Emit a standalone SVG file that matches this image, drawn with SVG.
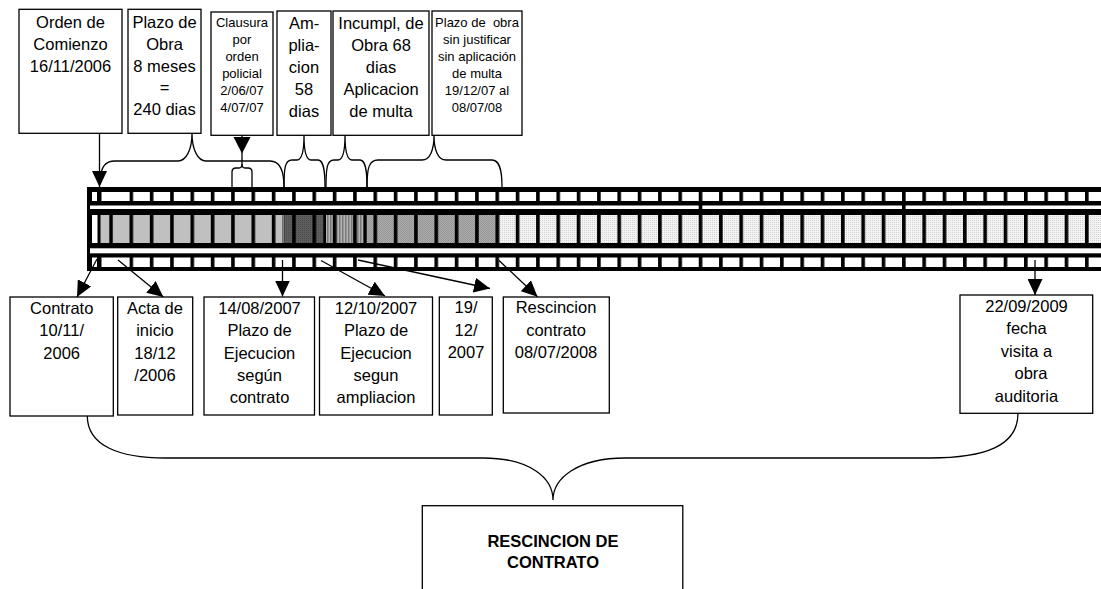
<svg xmlns="http://www.w3.org/2000/svg" width="1101" height="589" viewBox="0 0 1101 589">
<style>
.box{fill:#fff;stroke:#000;stroke-width:1.3}
.t{font-family:"Liberation Sans",Arial,sans-serif;font-size:16.5px;text-anchor:middle;fill:#000}
.s{font-size:13px}
.b{font-weight:bold}
.ln{fill:none;stroke:#000;stroke-width:1.3}
</style>
<defs>
<marker id="ah" markerUnits="userSpaceOnUse" markerWidth="16" markerHeight="15" refX="16" refY="7.5" orient="auto" viewBox="0 0 16 15"><path d="M0,0 L16,7.5 L0,15 z" fill="#000"/></marker>
<pattern id="holes" patternUnits="userSpaceOnUse" x="129.5" y="0" width="20.33" height="600"><rect x="3.6" y="0" width="16.73" height="600" fill="#fff"/></pattern>
<pattern id="divs" patternUnits="userSpaceOnUse" x="129.5" y="0" width="20.33" height="600"><rect x="0" y="0" width="3.6" height="600" fill="#000"/></pattern>
<pattern id="pDark" patternUnits="userSpaceOnUse" width="2" height="2"><rect width="2" height="2" fill="#5e5e5e"/><rect width="1" height="1" fill="#4c4c4c"/></pattern>
<pattern id="pStripe" patternUnits="userSpaceOnUse" width="3" height="3"><rect width="3" height="3" fill="#b2b2b2"/><rect width="1.5" height="3" fill="#7a7a7a"/></pattern>
<pattern id="pMed" patternUnits="userSpaceOnUse" width="2" height="2"><rect width="2" height="2" fill="#acacac"/><rect width="1" height="1" fill="#969696"/><rect x="1" y="1" width="1" height="1" fill="#969696"/></pattern>
<pattern id="pLight" patternUnits="userSpaceOnUse" width="2" height="2"><rect width="2" height="2" fill="#f3f3f3"/><rect width="1" height="1" fill="#d2d2d2"/></pattern>
</defs>

<!-- film strip -->
<g id="strip">
  <rect x="87" y="187" width="1014" height="84" fill="#000"/>
  <!-- gaps between bands -->
  <rect x="90" y="205.5" width="1011" height="3.5" fill="#fff"/>
  <rect x="698.7" y="205" width="3.6" height="5" fill="#000"/>
  <rect x="902" y="205" width="3.6" height="5" fill="#000"/>
  <rect x="90" y="248.3" width="1011" height="5" fill="#fff"/>
  <!-- top band holes -->
  <rect x="92" y="192" width="5" height="9" fill="#fff"/>
  <rect x="101.5" y="192" width="28" height="9" fill="#fff"/>
  <rect x="129.5" y="192" width="971.5" height="9" fill="url(#holes)"/>
  <!-- bottom band holes -->
  <rect x="92" y="257.5" width="5" height="9.5" fill="#fff"/>
  <rect x="101.5" y="257.5" width="28" height="9.5" fill="#fff"/>
  <rect x="129.5" y="257.5" width="971.5" height="9.5" fill="url(#holes)"/>
  <!-- middle band cells -->
  <rect x="92" y="215" width="5.5" height="28" fill="#fff"/>
  <rect x="100.5" y="215" width="182" height="28" fill="#c0c0c0"/>
  <rect x="282.5" y="215" width="1.8" height="28" fill="#808080"/>
  <rect x="284.3" y="215" width="39" height="28" fill="url(#pDark)"/>
  <rect x="326" y="215" width="37.5" height="28" fill="url(#pStripe)"/>
  <rect x="366.7" y="215" width="133.3" height="28" fill="url(#pMed)"/>
  <rect x="500" y="215" width="601" height="28" fill="url(#pLight)"/>
  <rect x="109.17" y="215" width="991.83" height="28" fill="url(#divs)"/>
</g>

<!-- top nodes -->
<g id="n1"><rect class="box" x="19" y="9.3" width="103" height="124"/>
<text class="t" x="70.5" y="28.3">Orden de</text><text class="t" x="70.5" y="50">Comienzo</text><text class="t" x="70.5" y="71.7">16/11/2006</text></g>
<g id="n2"><rect class="box" x="128" y="9.3" width="73" height="124"/>
<text class="t" x="164.5" y="28.3">Plazo de</text><text class="t" x="164.5" y="50">Obra</text><text class="t" x="164.5" y="71.7">8 meses</text><text class="t" x="164.5" y="93.4">=</text><text class="t" x="164.5" y="115.1">240 dias</text></g>
<g id="n3"><rect class="box" x="211" y="12" width="62" height="123.3"/>
<text class="t s" x="242" y="26.7">Clausura</text><text class="t s" x="242" y="43.7">por</text><text class="t s" x="242" y="60.7">orden</text><text class="t s" x="242" y="77.7">policial</text><text class="t s" x="242" y="94.7">2/06/07</text><text class="t s" x="242" y="111.7">4/07/07</text></g>
<g id="n4"><rect class="box" x="277" y="11" width="54" height="124.3"/>
<text class="t" x="304" y="29">Am-</text><text class="t" x="304" y="51">plia-</text><text class="t" x="304" y="73">cion</text><text class="t" x="304" y="95">58</text><text class="t" x="304" y="117">dias</text></g>
<g id="n5"><rect class="box" x="333" y="11" width="96" height="124.3"/>
<text class="t" x="381" y="29">Incumpl, de</text><text class="t" x="381" y="51">Obra 68</text><text class="t" x="381" y="73">dias</text><text class="t" x="381" y="95">Aplicacion</text><text class="t" x="381" y="117">de multa</text></g>
<g id="n6"><rect class="box" x="432" y="11" width="90" height="124.3"/>
<text class="t s" x="477" y="26.7" xml:space="preserve">Plazo de  obra</text><text class="t s" x="477" y="43.7">sin justificar</text><text class="t s" x="477" y="60.7">sin aplicación</text><text class="t s" x="477" y="77.7">de multa</text><text class="t s" x="477" y="94.7">19/12/07 al</text><text class="t s" x="477" y="111.7">08/07/08</text></g>

<!-- bottom nodes -->
<g id="b1"><rect class="box" x="10" y="297" width="103.3" height="119"/>
<text class="t" x="61.7" y="314">Contrato</text><text class="t" x="61.7" y="336.3">10/11/</text><text class="t" x="61.7" y="358.6">2006</text></g>
<g id="b2"><rect class="box" x="117.7" y="297" width="75" height="118"/>
<text class="t" x="155" y="314">Acta de</text><text class="t" x="155" y="336.3">inicio</text><text class="t" x="155" y="358.6">18/12</text><text class="t" x="155" y="380.9">/2006</text></g>
<g id="b3"><rect class="box" x="204" y="297" width="110.5" height="118"/>
<text class="t" x="259.5" y="314">14/08/2007</text><text class="t" x="259.5" y="336.3">Plazo de</text><text class="t" x="259.5" y="358.6">Ejecucion</text><text class="t" x="259.5" y="380.9">según</text><text class="t" x="259.5" y="403.2">contrato</text></g>
<g id="b4"><rect class="box" x="319.5" y="297" width="113" height="118"/>
<text class="t" x="376" y="314">12/10/2007</text><text class="t" x="376" y="336.3">Plazo de</text><text class="t" x="376" y="358.6">Ejecucion</text><text class="t" x="376" y="380.9">segun</text><text class="t" x="376" y="403.2">ampliacion</text></g>
<g id="b5"><rect class="box" x="439.3" y="297" width="53" height="118"/>
<text class="t" x="466" y="313.3">19/</text><text class="t" x="466" y="336">12/</text><text class="t" x="466" y="358.3">2007</text></g>
<g id="b6"><rect class="box" x="503.3" y="297" width="106" height="116"/>
<text class="t" x="556" y="313.3">Rescincion</text><text class="t" x="556" y="336">contrato</text><text class="t" x="556" y="358.3">08/07/2008</text></g>
<g id="b7"><rect class="box" x="960" y="295" width="132.7" height="118.3"/>
<text class="t" x="1026.5" y="311.7">22/09/2009</text><text class="t" x="1026.5" y="334">fecha</text><text class="t" x="1026.5" y="356.7">visita a</text><text class="t" x="1031" y="379">obra</text><text class="t" x="1026.5" y="401.7">auditoria</text></g>
<g id="final"><rect class="box" x="422.3" y="505.7" width="260.5" height="100"/>
<text class="t b" x="553" y="546.7">RESCINCION DE</text><text class="t b" x="553" y="568.3">CONTRATO</text></g>

<!-- connectors -->
<g id="connectors">
  <line class="ln" x1="99.5" y1="133.3" x2="99.5" y2="187" marker-end="url(#ah)"/>
  <path class="ln" d="M100,180 C101,167 105,161 115,161 L178,161 C186,161 192,150 192,133.3 C192,150 198,161 206,161 L270,161 C280,161 284,170 284,187"/>
  <line class="ln" x1="242" y1="135.3" x2="242" y2="165"/>
  <polygon points="233.5,137 250.5,137 242,153.5" fill="#000"/>
  <path class="ln" d="M232,187 L232,172 C232,169 233,168 236,168 L239,168 C241,168 242,167 242,164 C242,167 243,168 245,168 L248,168 C251,168 252,169 252,172 L252,187"/>
  <path class="ln" d="M284,187 C284,168 285,160 292,160 L297,160 C302,160 304,152 304,135.3 C304,152 306,160 311,160 L318,160 C323,160 325,168 325,187"/>
  <path class="ln" d="M326,187 C326,168 327,160 334,160 L338,160 C343,160 345,152 345,135.3 C345,152 347,160 352,160 L360,160 C365,160 367,168 367,187"/>
  <path class="ln" d="M367,187 C367,168 369,160 378,160 L422,160 C430,160 434,150 434,135.3 C434,150 438,160 446,160 L492,160 C499,160 502,168 502,187"/>
  <line class="ln" x1="97" y1="259" x2="77" y2="297" marker-end="url(#ah)"/>
  <line class="ln" x1="118" y1="260" x2="163.3" y2="297" marker-end="url(#ah)"/>
  <line class="ln" x1="282.5" y1="260" x2="282.5" y2="296.5" marker-end="url(#ah)"/>
  <line class="ln" x1="321" y1="260.5" x2="385" y2="296" marker-end="url(#ah)"/>
  <line class="ln" x1="358" y1="260" x2="490" y2="288.5" marker-end="url(#ah)"/>
  <line class="ln" x1="499" y1="260.5" x2="537.5" y2="296.7" marker-end="url(#ah)"/>
  <line class="ln" x1="1035" y1="260" x2="1035" y2="295" marker-end="url(#ah)"/>
  <path class="ln" d="M87.3,416 C87.3,446 120,458 165,458 L483,458 C530,458 553,478 553,500 C553,478 578,458 625,458 L930,458 C985,458 1018,446 1018,413.3"/>
</g>
</svg>
